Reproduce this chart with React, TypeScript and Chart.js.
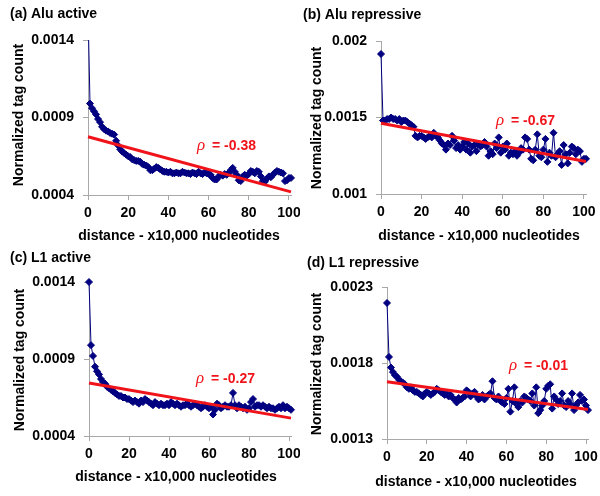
import React, { useEffect, useRef } from 'react';
import { Chart, registerables } from 'chart.js';

Chart.register(...registerables);
Chart.defaults.font.family = '"Liberation Sans", Arial, sans-serif';

// ---------- DATA ----------
const DISTANCE = [
  0, 1, 2, 3, 4, 5, 6, 7, 8, 9, 10, 11, 12, 13, 14, 15, 16, 17, 18, 19, 20,
  21, 22, 23, 24, 25, 26, 27, 28, 29, 30, 31, 32, 33, 34, 35, 36, 37, 38, 39, 40,
  41, 42, 43, 44, 45, 46, 47, 48, 49, 50, 51, 52, 53, 54, 55, 56, 57, 58, 59, 60,
  61, 62, 63, 64, 65, 66, 67, 68, 69, 70, 71, 72, 73, 74, 75, 76, 77, 78, 79, 80,
  81, 82, 83, 84, 85, 86, 87, 88, 89, 90, 91, 92, 93, 94, 95, 96, 97, 98, 99, 100, 101,
];

const ALU_ACTIVE = [
  1.6e-3, 9.9e-4, 9.6e-4, 9.4e-4, 9.2e-4, 8.9e-4, 8.7e-4, 8.4e-4, 8.25e-4, 8.15e-4, 8.1e-4,
  8.0e-4, 7.95e-4, 7.9e-4, 7.5e-4, 7.2e-4, 6.95e-4, 6.8e-4, 6.7e-4, 6.6e-4, 6.5e-4,
  6.45e-4, 6.3e-4, 6.25e-4, 6.2e-4, 6.2e-4, 6.15e-4, 6.0e-4, 5.95e-4, 5.9e-4, 5.8e-4,
  5.6e-4, 5.6e-4, 5.7e-4, 5.8e-4, 5.75e-4, 5.65e-4, 5.55e-4, 5.5e-4, 5.5e-4, 5.45e-4,
  5.5e-4, 5.4e-4, 5.4e-4, 5.45e-4, 5.4e-4, 5.4e-4, 5.5e-4, 5.45e-4, 5.4e-4, 5.4e-4,
  5.35e-4, 5.45e-4, 5.4e-4, 5.35e-4, 5.5e-4, 5.4e-4, 5.35e-4, 5.45e-4, 5.4e-4, 5.35e-4,
  5.3e-4, 5.1e-4, 5.0e-4, 5.0e-4, 5.2e-4, 5.3e-4, 5.25e-4, 5.35e-4, 5.3e-4, 5.4e-4,
  5.6e-4, 5.75e-4, 5.5e-4, 5.3e-4, 4.95e-4, 4.9e-4, 5.2e-4, 5.3e-4, 5.25e-4, 5.35e-4,
  5.55e-4, 5.5e-4, 5.4e-4, 5.55e-4, 5.5e-4, 5.2e-4, 4.9e-4, 4.85e-4, 5.05e-4, 5.2e-4,
  5.15e-4, 5.3e-4, 5.45e-4, 5.55e-4, 5.5e-4, 5.45e-4, 5.4e-4, 4.9e-4, 4.95e-4, 5.1e-4, 5.1e-4,
];

const ALU_REPRESSIVE = [
  1.915e-3, 1.48e-3, 1.48e-3, 1.49e-3, 1.49e-3, 1.5e-3, 1.49e-3, 1.49e-3, 1.48e-3, 1.49e-3, 1.47e-3,
  1.48e-3, 1.48e-3, 1.47e-3, 1.46e-3, 1.45e-3, 1.44e-3, 1.38e-3, 1.37e-3, 1.38e-3, 1.38e-3,
  1.37e-3, 1.36e-3, 1.37e-3, 1.38e-3, 1.37e-3, 1.4e-3, 1.38e-3, 1.37e-3, 1.35e-3, 1.33e-3,
  1.32e-3, 1.29e-3, 1.33e-3, 1.32e-3, 1.38e-3, 1.35e-3, 1.3e-3, 1.32e-3, 1.29e-3, 1.31e-3,
  1.34e-3, 1.29e-3, 1.33e-3, 1.27e-3, 1.31e-3, 1.32e-3, 1.28e-3, 1.33e-3, 1.31e-3, 1.32e-3,
  1.34e-3, 1.31e-3, 1.25e-3, 1.28e-3, 1.26e-3, 1.33e-3, 1.3e-3, 1.37e-3, 1.27e-3, 1.31e-3,
  1.29e-3, 1.33e-3, 1.25e-3, 1.27e-3, 1.26e-3, 1.28e-3, 1.25e-3, 1.27e-3, 1.3e-3, 1.29e-3,
  1.37e-3, 1.36e-3, 1.29e-3, 1.23e-3, 1.22e-3, 1.29e-3, 1.39e-3, 1.25e-3, 1.24e-3, 1.29e-3,
  1.36e-3, 1.21e-3, 1.27e-3, 1.25e-3, 1.4e-3, 1.24e-3, 1.26e-3, 1.28e-3, 1.19e-3, 1.32e-3,
  1.26e-3, 1.2e-3, 1.27e-3, 1.31e-3, 1.3e-3, 1.26e-3, 1.29e-3, 1.28e-3, 1.21e-3, 1.23e-3, 1.23e-3,
];

const L1_ACTIVE = [
  1.4e-3, 9.9e-4, 9.2e-4, 8.5e-4, 8.2e-4, 8.0e-4, 7.7e-4, 7.5e-4, 7.4e-4, 7.2e-4, 7.1e-4,
  7.0e-4, 6.9e-4, 6.8e-4, 6.7e-4, 6.6e-4, 6.6e-4, 6.5e-4, 6.5e-4, 6.4e-4, 6.4e-4,
  6.3e-4, 6.2e-4, 6.3e-4, 6.2e-4, 6.1e-4, 6.3e-4, 6.2e-4, 6.4e-4, 6.3e-4, 6.2e-4,
  6.1e-4, 6.0e-4, 6.2e-4, 6.1e-4, 6.0e-4, 6.1e-4, 6.0e-4, 6.0e-4, 6.1e-4, 6.0e-4,
  6.2e-4, 6.1e-4, 6.0e-4, 6.1e-4, 6.0e-4, 5.9e-4, 6.0e-4, 6.0e-4, 6.1e-4, 6.0e-4,
  5.9e-4, 6.0e-4, 6.1e-4, 6.0e-4, 5.9e-4, 5.8e-4, 5.9e-4, 6.0e-4, 5.9e-4, 5.8e-4,
  5.9e-4, 5.4e-4, 5.7e-4, 6.1e-4, 6.0e-4, 5.8e-4, 5.9e-4, 6.0e-4, 5.9e-4, 5.9e-4,
  6.0e-4, 6.8e-4, 6.0e-4, 5.8e-4, 6.0e-4, 5.9e-4, 5.8e-4, 5.9e-4, 5.7e-4, 5.8e-4,
  6.2e-4, 6.4e-4, 5.9e-4, 6.0e-4, 6.0e-4, 5.9e-4, 6.0e-4, 5.9e-4, 5.8e-4, 5.9e-4,
  5.8e-4, 5.8e-4, 5.7e-4, 5.8e-4, 5.9e-4, 5.8e-4, 6.0e-4, 5.8e-4, 5.9e-4, 5.8e-4, 5.7e-4,
];

const L1_REPRESSIVE = [
  2.195e-3, 1.84e-3, 1.77e-3, 1.74e-3, 1.72e-3, 1.71e-3, 1.69e-3, 1.68e-3, 1.67e-3, 1.66e-3, 1.64e-3,
  1.63e-3, 1.64e-3, 1.62e-3, 1.61e-3, 1.61e-3, 1.6e-3, 1.59e-3, 1.58e-3, 1.6e-3, 1.61e-3,
  1.6e-3, 1.59e-3, 1.6e-3, 1.61e-3, 1.63e-3, 1.62e-3, 1.61e-3, 1.6e-3, 1.59e-3, 1.6e-3,
  1.58e-3, 1.59e-3, 1.57e-3, 1.56e-3, 1.54e-3, 1.57e-3, 1.56e-3, 1.57e-3, 1.58e-3, 1.62e-3,
  1.61e-3, 1.58e-3, 1.6e-3, 1.61e-3, 1.58e-3, 1.56e-3, 1.57e-3, 1.59e-3, 1.56e-3, 1.58e-3,
  1.59e-3, 1.6e-3, 1.68e-3, 1.57e-3, 1.56e-3, 1.58e-3, 1.55e-3, 1.54e-3, 1.53e-3, 1.57e-3,
  1.63e-3, 1.48e-3, 1.55e-3, 1.64e-3, 1.53e-3, 1.51e-3, 1.55e-3, 1.54e-3, 1.58e-3, 1.57e-3,
  1.56e-3, 1.55e-3, 1.6e-3, 1.52e-3, 1.64e-3, 1.47e-3, 1.49e-3, 1.52e-3, 1.55e-3, 1.63e-3,
  1.65e-3, 1.66e-3, 1.5e-3, 1.58e-3, 1.56e-3, 1.53e-3, 1.55e-3, 1.6e-3, 1.52e-3, 1.51e-3,
  1.55e-3, 1.53e-3, 1.6e-3, 1.49e-3, 1.52e-3, 1.54e-3, 1.59e-3, 1.55e-3, 1.56e-3, 1.52e-3, 1.49e-3,
];

// regression lines: value at distance FIT_X[0] and FIT_X[1]
const FIT_X = [0, 101];
const FIT_ALU_ACTIVE = [7.76e-4, 4.2e-4];
const FIT_ALU_REPRESSIVE = [1.462e-3, 1.213e-3];
const FIT_L1_ACTIVE = [7.44e-4, 5.16e-4];
const FIT_L1_REPRESSIVE = [1.677e-3, 1.494e-3];

const RHO = ['-0.38', '-0.67', '-0.27', '-0.01'];
const PANEL_TITLES = ['(a) Alu active', '(b) Alu repressive', '(c) L1 active', '(d) L1 repressive'];

const X_TICKS = [0, 20, 40, 60, 80, 100];
const Y_TICKS_ACTIVE = [0.0004, 0.0009, 0.0014];
const Y_TICK_LABELS_ACTIVE = ['0.0004', '0.0009', '0.0014'];
const Y_TICKS_ALU_REP = [0.001, 0.0015, 0.002];
const Y_TICK_LABELS_ALU_REP = ['0.001', '0.0015', '0.002'];
const Y_TICKS_L1_REP = [0.0013, 0.0018, 0.0023];
const Y_TICK_LABELS_L1_REP = ['0.0013', '0.0018', '0.0023'];

const X_TITLE = 'distance - x10,000 nucleotides';
const Y_TITLE = 'Normalized tag count';

// ---------- STYLE / LAYOUT ----------
const NAVY = '#000080';
const RED = '#f0141a';
const AXIS = '#a8a8a8';
const W = 300;
const H = 248;

const PANELS = [
  {
    title: PANEL_TITLES[0], values: ALU_ACTIVE, fit: FIT_ALU_ACTIVE, rho: RHO[0],
    yTicks: Y_TICKS_ACTIVE, yLabels: Y_TICK_LABELS_ACTIVE,
    pos: { left: 0, top: 0 }, clipTop: 0,
    L: { left: 88, right: 291, top: 40, bottom: 195, titleX: 10, titleY: 14, yTitleX: 19, yTitleY: 115, xTitleX: 179, xTitleY: 236, rhoX: 197, rhoY: 150 },
  },
  {
    title: PANEL_TITLES[1], values: ALU_REPRESSIVE, fit: FIT_ALU_REPRESSIVE, rho: RHO[1],
    yTicks: Y_TICKS_ALU_REP, yLabels: Y_TICK_LABELS_ALU_REP,
    pos: { left: 300, top: 0 }, clipTop: 8,
    L: { left: 81, right: 286, top: 41, bottom: 194, titleX: 3, titleY: 15, yTitleX: 17.5, yTitleY: 118, xTitleX: 179, xTitleY: 236, rhoX: 196, rhoY: 125 },
  },
  {
    title: PANEL_TITLES[2], values: L1_ACTIVE, fit: FIT_L1_ACTIVE, rho: RHO[2],
    yTicks: Y_TICKS_ACTIVE, yLabels: Y_TICK_LABELS_ACTIVE,
    pos: { left: 0, top: 248 }, clipTop: 8,
    L: { left: 89, right: 291, top: 34, bottom: 188, titleX: 10, titleY: 10, yTitleX: 20, yTitleY: 112, xTitleX: 176, xTitleY: 229, rhoX: 196, rhoY: 135 },
  },
  {
    title: PANEL_TITLES[3], values: L1_REPRESSIVE, fit: FIT_L1_REPRESSIVE, rho: RHO[3],
    yTicks: Y_TICKS_L1_REP, yLabels: Y_TICK_LABELS_L1_REP,
    pos: { left: 300, top: 248 }, clipTop: 8,
    L: { left: 87, right: 288, top: 39, bottom: 191, titleX: 7, titleY: 15, yTitleX: 17, yTitleY: 116, xTitleX: 176, xTitleY: 234, rhoX: 209, rhoY: 122 },
  },
];

function Panel({ cfg }: { cfg: any }) {
  const ref = useRef<HTMLCanvasElement | null>(null);

  useEffect(() => {
    const L = cfg.L;
    const textPlugin = {
      id: 'panelText',
      afterDraw(chart: any) {
        const ctx = chart.ctx;
        ctx.save();
        ctx.fillStyle = '#000';
        ctx.font = 'bold 14px "Liberation Sans", Arial, sans-serif';
        ctx.textAlign = 'left';
        ctx.textBaseline = 'middle';
        ctx.fillText(cfg.title, L.titleX, L.titleY);
        ctx.textAlign = 'center';
        ctx.fillText(X_TITLE, L.xTitleX, L.xTitleY);
        ctx.save();
        ctx.translate(L.yTitleX, L.yTitleY);
        ctx.rotate(-Math.PI / 2);
        ctx.fillText(Y_TITLE, 0, 0);
        ctx.restore();
        ctx.fillStyle = RED;
        ctx.textAlign = 'left';
        ctx.textBaseline = 'alphabetic';
        ctx.font = 'italic 17px "Liberation Serif", serif';
        ctx.fillText('ρ', L.rhoX, L.rhoY);
        ctx.font = 'bold 14px "Liberation Sans", Arial, sans-serif';
        ctx.fillText('= ' + cfg.rho, L.rhoX + 15, L.rhoY);
        ctx.restore();
      },
    };

    const clip = { left: 8, right: 8, top: cfg.clipTop, bottom: 8 };
    const chart = new Chart(ref.current as HTMLCanvasElement, {
      type: 'line',
      data: {
        labels: DISTANCE,
        datasets: [
          {
            data: FIT_X.map((x, i) => ({ x, y: cfg.fit[i] })),
            borderColor: RED,
            borderWidth: 3,
            pointRadius: 0,
            order: 0,
            clip,
          } as any,
          {
            data: cfg.values,
            borderColor: NAVY,
            backgroundColor: NAVY,
            borderWidth: 1,
            pointStyle: 'rectRot',
            pointRadius: 3.5,
            pointBorderWidth: 1,
            pointBackgroundColor: NAVY,
            pointBorderColor: NAVY,
            order: 1,
            clip,
          } as any,
        ],
      },
      plugins: [textPlugin],
      options: {
        responsive: false,
        animation: false,
        events: [],
        layout: { padding: { left: 0, top: L.top, right: W - L.right, bottom: 0 } },
        plugins: { legend: { display: false }, tooltip: { enabled: false }, title: { display: false } },
        scales: {
          x: {
            type: 'linear',
            min: 0,
            max: 101,
            afterBuildTicks: (s: any) => {
              s.ticks = X_TICKS.map((v) => ({ value: v }));
            },
            afterFit: (s: any) => {
              s.height = H - L.bottom;
              s.paddingLeft = 0;
              s.paddingRight = 0;
            },
            grid: { drawOnChartArea: false, drawTicks: true, tickLength: 5, color: AXIS },
            border: { display: true, color: AXIS, width: 1 },
            ticks: {
              color: '#000',
              font: { size: 14, weight: 'bold' },
              padding: 5,
              maxRotation: 0,
              autoSkip: false,
            },
          },
          y: {
            type: 'linear',
            min: cfg.yTicks[0],
            max: cfg.yTicks[cfg.yTicks.length - 1],
            afterBuildTicks: (s: any) => {
              s.ticks = cfg.yTicks.map((v: number) => ({ value: v }));
            },
            afterFit: (s: any) => {
              s.width = L.left;
            },
            grid: { drawOnChartArea: false, drawTicks: true, tickLength: 5, color: AXIS },
            border: { display: true, color: AXIS, width: 1 },
            ticks: {
              color: '#000',
              font: { size: 14, weight: 'bold' },
              padding: 9,
              autoSkip: false,
              callback: (_v: any, i: number) => cfg.yLabels[i],
            },
          },
        },
      } as any,
    });
    return () => chart.destroy();
  }, [cfg]);

  return (
    <canvas
      ref={ref}
      width={W}
      height={H}
      style={{ position: 'absolute', left: cfg.pos.left, top: cfg.pos.top, width: W, height: H }}
    />
  );
}

export default function App() {
  return (
    <div style={{ position: 'absolute', left: 0, top: 0, width: 600, height: 496, background: '#fff' }}>
      {PANELS.map((p, i) => (
        <Panel key={i} cfg={p} />
      ))}
    </div>
  );
}
